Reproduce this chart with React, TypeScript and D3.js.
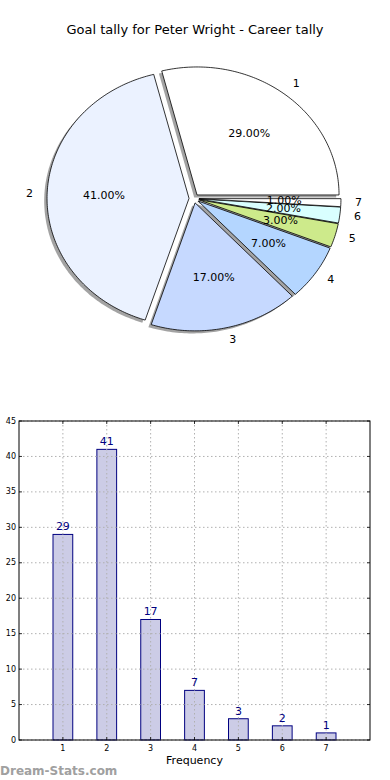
import { useMemo } from 'react'
import * as d3 from 'd3'

const TITLE = 'Goal tally for Peter Wright - Career tally'
const categories = ['1', '2', '3', '4', '5', '6', '7']
const goals = [29, 41, 17, 7, 3, 2, 1]
const sliceColors = ['#ffffff', '#ebf2ff', '#c6d9ff', '#b4d6ff', '#cdea8b', '#d9ffff', '#ffffff']
const yTicks = [0, 5, 10, 15, 20, 25, 30, 35, 40, 45]

const W = 390
const H = 780
const PIE = { cx: 194, cy: 198.5, rx: 142, ry: 128 }
const EXPLODE = 0.035
const BAR = { left: 19, right: 370, top: 421, bottom: 740 }
const FONT = 'DejaVu Sans, sans-serif'

export default function App() {
  const pie = useMemo(() => {
    // matplotlib-style pie: starts at 3 o'clock, counter-clockwise, elliptical axes
    const px = d3.scaleLinear().domain([-1, 1]).range([PIE.cx - PIE.rx, PIE.cx + PIE.rx])
    const py = d3.scaleLinear().domain([-1, 1]).range([PIE.cy + PIE.ry, PIE.cy - PIE.ry])
    const total = d3.sum(goals)
    let acc = 0
    return goals.map((v, i) => {
      const t1 = (acc / total) * 2 * Math.PI
      acc += v
      const t2 = (acc / total) * 2 * Math.PI
      const mid = (t1 + t2) / 2
      const ox = EXPLODE * Math.cos(mid)
      const oy = EXPLODE * Math.sin(mid)
      const n = Math.max(2, Math.ceil(((t2 - t1) * 180) / Math.PI))
      const pts: [number, number][] = [[ox, oy]]
      for (let k = 0; k <= n; k++) {
        const t = t1 + ((t2 - t1) * k) / n
        pts.push([ox + Math.cos(t), oy + Math.sin(t)])
      }
      const line = d3.line<[number, number]>().x(d => px(d[0])).y(d => py(d[1]))
      const shadow = d3.line<[number, number]>().x(d => px(d[0] - 0.02)).y(d => py(d[1] - 0.02))
      const cosm = Math.cos(mid)
      return {
        key: categories[i],
        color: sliceColors[i],
        path: line(pts) + 'Z',
        shadowPath: shadow(pts) + 'Z',
        pctX: px(ox + 0.6 * Math.cos(mid)),
        pctY: py(oy + 0.6 * Math.sin(mid)),
        labX: px(ox + 1.1 * Math.cos(mid)),
        labY: py(oy + 1.1 * Math.sin(mid)),
        anchor: cosm > 0 ? 'start' : 'end',
        pct: ((v / total) * 100).toFixed(2) + '%'
      }
    })
  }, [])

  const x = d3.scaleLinear().domain([0, 8]).range([BAR.left, BAR.right])
  const y = d3.scaleLinear().domain([0, 45]).range([BAR.bottom, BAR.top])
  const barW = x(0.45) - x(0)

  return (
    <div style={{ position: 'absolute', left: 0, top: 0 }}>
      <svg width={W} height={H} fontFamily={FONT}>
        <rect width={W} height={H} fill="#fff" />
        <text x={W / 2} y={30} textAnchor="middle" dominantBaseline="middle" fontSize={13} fill="#000">
          {TITLE}
        </text>

        {/* shadows */}
        {pie.map(s => (
          <path key={'s' + s.key} d={s.shadowPath} fill="#666" fillOpacity={0.6} />
        ))}
        {/* wedges */}
        {pie.map(s => (
          <path key={s.key} d={s.path} fill={s.color} stroke="#000" strokeWidth={0.8} />
        ))}
        {pie.map(s => (
          <text key={'p' + s.key} x={s.pctX} y={s.pctY} textAnchor="middle" dominantBaseline="middle" fontSize={11}>
            {s.pct}
          </text>
        ))}
        {pie.map(s => (
          <text key={'l' + s.key} x={s.labX} y={s.labY} textAnchor={s.anchor} dominantBaseline="middle" fontSize={11}>
            {s.key}
          </text>
        ))}

        {/* bar chart */}
        {goals.map((v, i) => (
          <rect
            key={'b' + i}
            x={x(i + 1) - barW / 2}
            y={y(v)}
            width={barW}
            height={y(0) - y(v)}
            fill="#ccccE6"
            stroke="#000080"
            strokeWidth={1}
          />
        ))}
        {yTicks.map(t => (
          <g key={'y' + t}>
            <line x1={BAR.left} x2={BAR.right} y1={y(t)} y2={y(t)} stroke="#b0b0b0" strokeDasharray="1.5,2.5" />
            <line x1={BAR.left} x2={BAR.left + 3} y1={y(t)} y2={y(t)} stroke="#000" strokeWidth={0.8} />
            <line x1={BAR.right - 3} x2={BAR.right} y1={y(t)} y2={y(t)} stroke="#000" strokeWidth={0.8} />
            <text x={BAR.left - 3} y={y(t)} textAnchor="end" dominantBaseline="middle" fontSize={8}>
              {t}
            </text>
          </g>
        ))}
        {categories.map((c, i) => (
          <g key={'x' + c}>
            <line x1={x(i + 1)} x2={x(i + 1)} y1={BAR.top} y2={BAR.bottom} stroke="#b0b0b0" strokeDasharray="1.5,2.5" />
            <line x1={x(i + 1)} x2={x(i + 1)} y1={BAR.bottom} y2={BAR.bottom - 3} stroke="#000" strokeWidth={0.8} />
            <line x1={x(i + 1)} x2={x(i + 1)} y1={BAR.top} y2={BAR.top + 3} stroke="#000" strokeWidth={0.8} />
            <text x={x(i + 1)} y={BAR.bottom + 8} textAnchor="middle" dominantBaseline="middle" fontSize={8}>
              {c}
            </text>
          </g>
        ))}
        {goals.map((v, i) => (
          <text key={'v' + i} x={x(i + 1)} y={y(v) - 7} textAnchor="middle" dominantBaseline="middle" fontSize={11} fill="#000080">
            {v}
          </text>
        ))}
        <rect x={BAR.left} y={BAR.top} width={BAR.right - BAR.left} height={BAR.bottom - BAR.top} fill="none" stroke="#000" strokeWidth={1} />
        <text x={(BAR.left + BAR.right) / 2} y={761} textAnchor="middle" dominantBaseline="middle" fontSize={11}>
          Frequency
        </text>
        <text x={0} y={771} dominantBaseline="middle" fontSize={12} fontWeight="bold" fill="#a0a0a0">
          Dream-Stats.com
        </text>
      </svg>
    </div>
  )
}
